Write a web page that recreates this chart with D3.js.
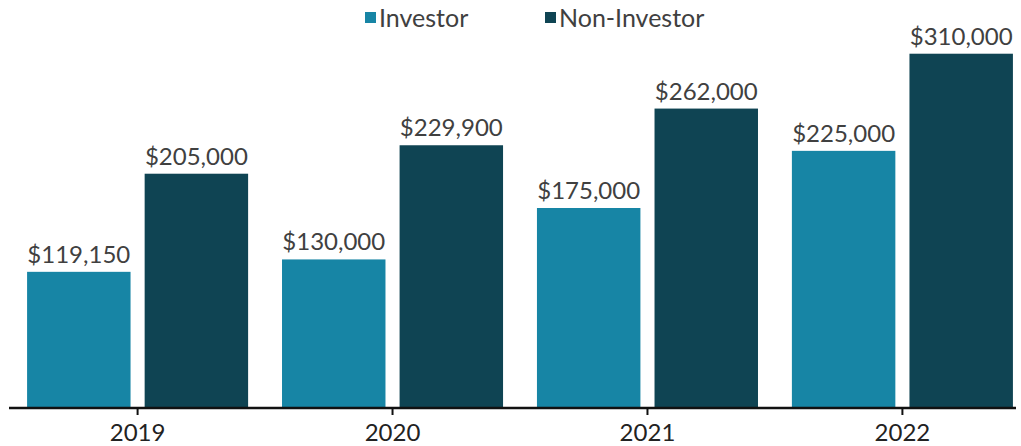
<!DOCTYPE html>
<html>
<head>
<meta charset="utf-8">
<script src="https://cdn.jsdelivr.net/npm/d3@7"></script>
<style>
  body { margin: 0; background: #fff; }
  text { font-family: "Lato", "Open Sans", sans-serif; }
</style>
</head>
<body>
<div id="chart"></div>
<script>
const years = ["2019", "2020", "2021", "2022"];
const seriesNames = ["Investor", "Non-Investor"];
const investor = [119150, 130000, 175000, 225000];
const nonInvestor = [205000, 229900, 262000, 310000];
const colors = ["#1785a5", "#0f4453"];

const w = 1021, h = 446;
const svg = d3.select("#chart").append("svg")
  .attr("width", w)
  .attr("height", h);

// step ~255px, first bar starts at x=27
const xScale = d3.scaleBand()
  .domain(years)
  .range([10, 1030])
  .paddingInner(0.133)
  .paddingOuter(0.067);

const xSub = d3.scaleBand()
  .domain(seriesNames)
  .range([0, xScale.bandwidth()])
  .paddingInner(0.12);

const yScale = d3.scaleLinear()
  .domain([0, 350000])
  .range([408, 8]);

const rows = years.map((y, i) => ({year: y, values: [investor[i], nonInvestor[i]]}));
const fmt = d3.format("$,");

const groups = svg.selectAll(".group")
  .data(rows)
  .enter().append("g")
  .attr("class", "group")
  .attr("transform", d => "translate(" + xScale(d.year) + ",0)");

groups.selectAll("rect")
  .data(d => d.values.map((v, j) => ({name: seriesNames[j], value: v, j: j})))
  .enter().append("rect")
  .attr("x", d => xSub(d.name))
  .attr("y", d => yScale(d.value))
  .attr("width", xSub.bandwidth())
  .attr("height", d => yScale(0) - yScale(d.value))
  .attr("fill", d => colors[d.j]);

groups.selectAll(".lbl")
  .data(d => d.values.map((v, j) => ({name: seriesNames[j], value: v})))
  .enter().append("text")
  .attr("class", "lbl")
  .attr("x", d => xSub(d.name) + xSub.bandwidth() / 2)
  .attr("y", d => yScale(d.value) - 9)
  .attr("text-anchor", "middle")
  .attr("fill", "#404040")
  .style("font-size", "24px")
  .text(d => fmt(d.value));

// x axis
const xAxis = svg.append("g")
  .attr("transform", "translate(0,408)")
  .call(d3.axisBottom(xScale).tickSize(7).tickSizeOuter(0));
xAxis.select(".domain")
  .attr("d", "M9,0H1016")
  .attr("stroke", "#111")
  .attr("stroke-width", 2.5);
xAxis.selectAll(".tick line")
  .attr("stroke", "#111")
  .attr("stroke-width", 2);
xAxis.selectAll(".tick text")
  .attr("fill", "#222")
  .attr("dy", 0)
  .attr("y", 33)
  .style("font-size", "24px")
  .style("font-family", "Lato, sans-serif");

// legend
const legendX = [365, 545];
const legend = svg.selectAll(".legend")
  .data(seriesNames)
  .enter().append("g")
  .attr("class", "legend")
  .attr("transform", (d, i) => "translate(" + legendX[i] + ",0)");
legend.append("rect")
  .attr("x", 0).attr("y", 12)
  .attr("width", 11).attr("height", 11)
  .attr("fill", (d, i) => colors[i]);
legend.append("text")
  .attr("x", 14)
  .attr("y", 27)
  .attr("fill", "#404040")
  .style("font-size", "25px")
  .text(d => d);
</script>
</body>
</html>
